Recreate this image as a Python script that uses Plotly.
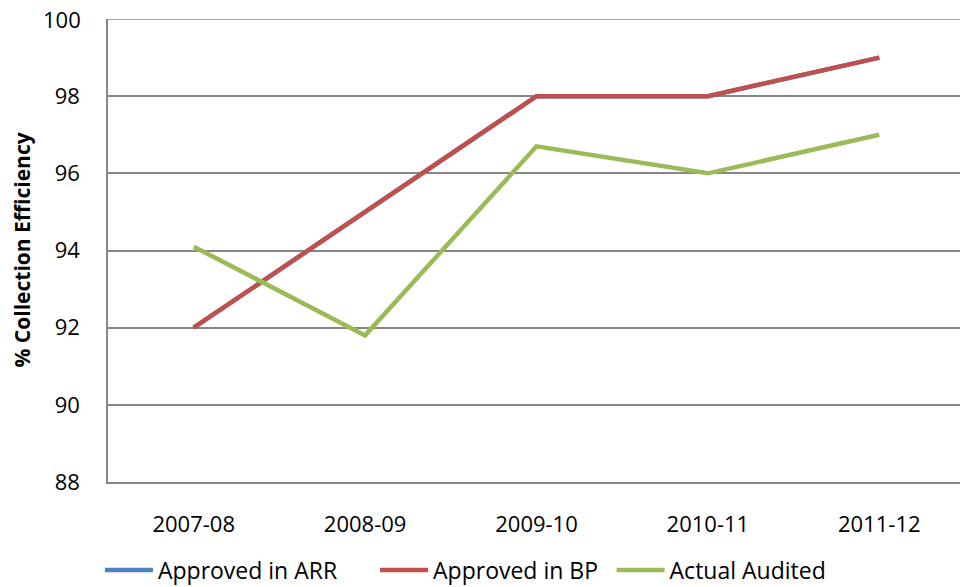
import plotly.graph_objects as go

years = ["2007-08", "2008-09", "2009-10", "2010-11", "2011-12"]
approved_arr = [92, 95, 98, 98, 99]
approved_bp = [92, 95, 98, 98, 99]
actual_audited = [94.1, 91.8, 96.7, 96.0, 97.0]
y_ticks = [88, 90, 92, 94, 96, 98, 100]
y_min, y_max = y_ticks[0], y_ticks[-1]

FONT = "Open Sans"
GRID = "#868686"
LEG_Y = -0.19

fig = go.Figure()
fig.add_trace(go.Scatter(x=years, y=approved_arr, mode="lines", name="Approved in ARR",
                         line=dict(color="#4F81BD", width=4.5), legend="legend"))
fig.add_trace(go.Scatter(x=years, y=approved_bp, mode="lines", name="Approved in BP",
                         line=dict(color="#C0504D", width=4.5), legend="legend2"))
fig.add_trace(go.Scatter(x=years, y=actual_audited, mode="lines", name="Actual Audited",
                         line=dict(color="#9BBB59", width=4.5), legend="legend3"))

leg_common = dict(orientation="h", xanchor="left", y=LEG_Y, yanchor="middle",
                  font=dict(size=23, family=FONT), bgcolor="rgba(0,0,0,0)", itemwidth=48)

# top tick (label + gridline) drawn at the axis maximum, where plotly would drop it
top_label = dict(text=str(y_max), xref="paper", yref="y", x=-0.0292, y=y_max,
                 xanchor="right", yanchor="middle", showarrow=False,
                 font=dict(size=22, family=FONT, color="black"))

fig.update_layout(
    width=960, height=579,
    margin=dict(l=100, r=3, t=11, b=105, autoexpand=False),
    paper_bgcolor="white", plot_bgcolor="white",
    font=dict(family=FONT, size=22, color="black"),
    showlegend=True,
    legend=dict(x=-0.0094, **leg_common),
    legend2=dict(x=0.3116, **leg_common),
    legend3=dict(x=0.5876, **leg_common),
    xaxis=dict(type="category", range=[-0.5, 4.5], showgrid=False, showline=True,
               linecolor=GRID, linewidth=1.5, ticks="", ticklabelstandoff=22,
               tickfont=dict(size=22)),
    yaxis=dict(range=[y_min, y_max], tickvals=y_ticks[:-1], showgrid=True, gridcolor=GRID,
               gridwidth=1.5, showline=True, linecolor=GRID, linewidth=1.5,
               ticks="", ticklabelstandoff=22, tickfont=dict(size=22), zeroline=False),
    shapes=[dict(type="line", xref="paper", yref="y", x0=0, x1=1, y0=y_max, y1=y_max,
                 line=dict(color=GRID, width=1.5), layer="below")],
    annotations=[
        dict(text="<b>% Collection Efficiency</b>", xref="paper", yref="paper",
             x=-0.1015, y=0.5, xanchor="center", yanchor="middle", textangle=-90,
             showarrow=False, font=dict(size=21, family=FONT)),
        top_label,
    ],
)

fig.write_html("out.html")
